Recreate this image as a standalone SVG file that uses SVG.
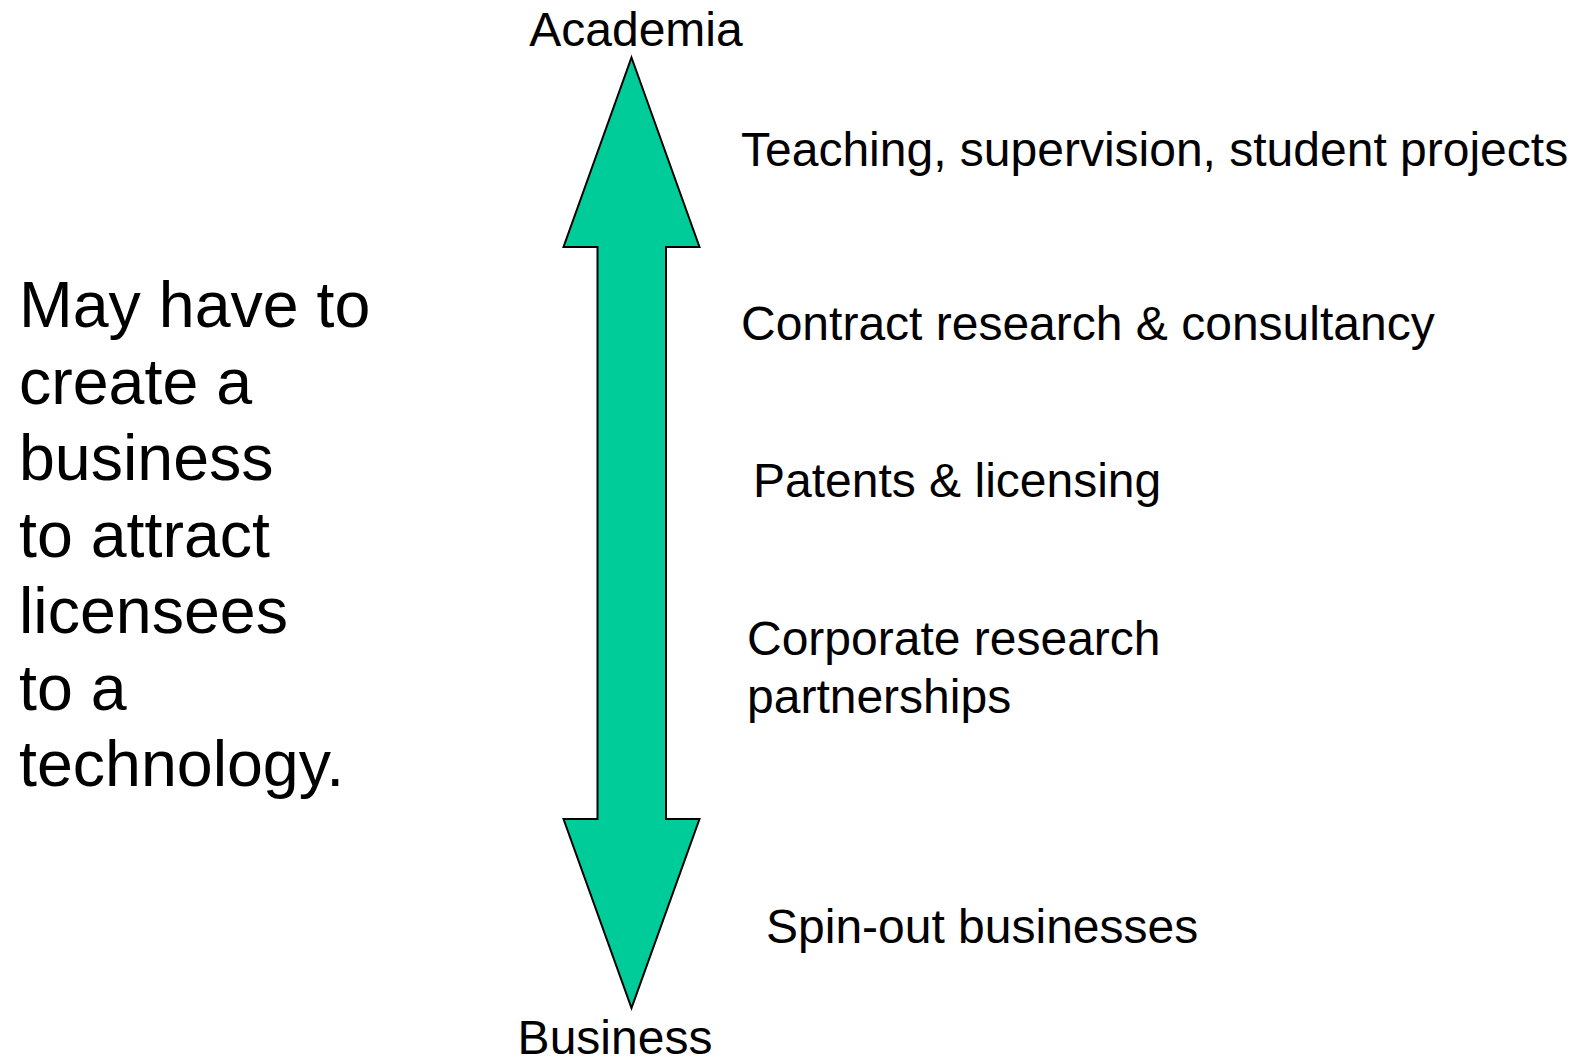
<svg xmlns="http://www.w3.org/2000/svg" width="1581" height="1057" viewBox="0 0 1581 1057">
<style>
text{font-family:"Liberation Sans",Arial,sans-serif;fill:#000}
.lbl{font-size:48px}
.big{font-size:64.5px}
.arrow{fill:#00CC99;stroke:#000;stroke-width:2;stroke-linejoin:miter}
</style>
<rect width="1581" height="1057" fill="#fff"/>
<g id="connectors">
<path id="double-arrow" class="arrow" d="M631.5,57.5 L699.5,247 L666,247 L666,819 L699.5,819 L631.5,1008 L563.5,819 L597.5,819 L597.5,247 L563.5,247 Z"/>
</g>
<g id="academia"><text class="lbl" x="636" y="46" text-anchor="middle">Academia</text></g>
<g id="business"><text class="lbl" x="615" y="1054" text-anchor="middle">Business</text></g>
<g id="teaching"><text class="lbl" x="741" y="166">Teaching, supervision, student projects</text></g>
<g id="contract"><text class="lbl" x="741" y="340">Contract research &amp; consultancy</text></g>
<g id="patents"><text class="lbl" x="753" y="497">Patents &amp; licensing</text></g>
<g id="corporate"><text class="lbl" x="747" y="655">Corporate research</text><text class="lbl" x="747" y="713">partnerships</text></g>
<g id="spinout"><text class="lbl" x="766" y="943">Spin-out businesses</text></g>
<g id="note"><text class="big" x="19">
<tspan x="19" y="327">May have to</tspan>
<tspan x="19" y="404">create a</tspan>
<tspan x="19" y="480">business</tspan>
<tspan x="19" y="557">to attract</tspan>
<tspan x="19" y="633">licensees</tspan>
<tspan x="19" y="710">to a</tspan>
<tspan x="19" y="786">technology.</tspan>
</text></g>
</svg>
